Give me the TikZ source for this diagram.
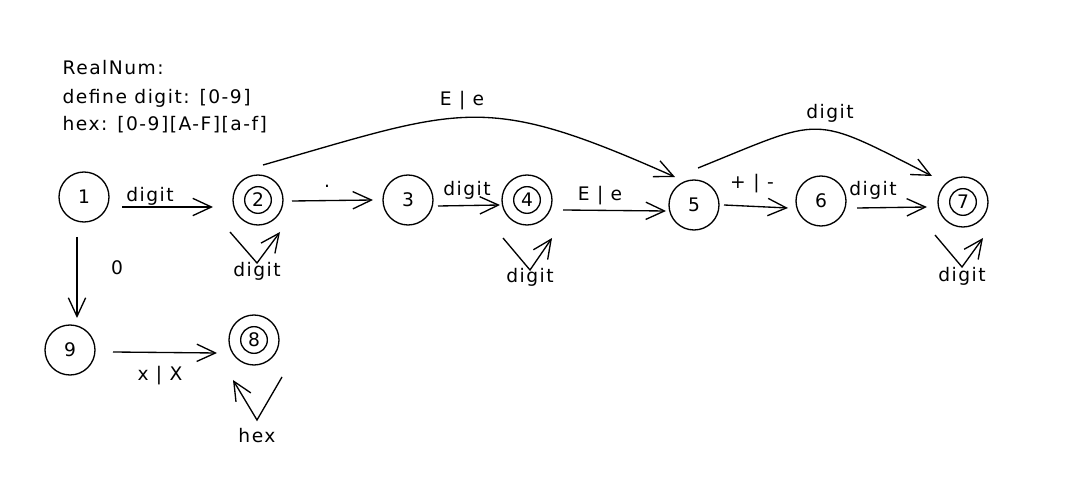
\documentclass[tikz,border=0pt]{standalone}
\usepackage{fontspec}
\setmainfont{DejaVu Sans}[LetterSpace=8]
\usetikzlibrary{arrows.meta}
\begin{document}
\begin{tikzpicture}[x=0.75pt,y=-0.75pt, line width=1pt,
  font=\fontsize{14}{16}\selectfont,
  state/.style={circle,draw,minimum size=37.5pt,inner sep=0pt},
  accept/.style={state,path picture={\draw (path picture bounding box.center) circle (10pt);}},
  arr/.style={-{Straight Barb[length=14pt,width=13pt]}},
  lbl/.style={inner sep=1pt},
  note/.style={anchor=base west,inner sep=0pt}]
\useasboundingbox (0,0) rectangle (1079,488);

% notes
\node[note] (t1) at (62,75) {RealNum:};
\node[note] (t2) at (62,104) {define digit: [0-9]};
\node[note] (t3) at (62,131) {hex: [0-9][A-F][a-f]};

% states
\node[state]  (n1) at (84,197) {1};
\node[accept] (n2) at (258,200) {2};
\node[state]  (n3) at (408,200) {3};
\node[accept] (n4) at (527,200) {4};
\node[state]  (n5) at (694,205) {5};
\node[state]  (n6) at (821,201) {6};
\node[accept] (n7) at (963,202) {7};
\node[accept] (n8) at (254,340) {8};
\node[state]  (n9) at (70,350) {9};

% straight transitions
\draw[arr] ([shift={(38,10)}]n1.center) -- ([shift={(-45,7)}]n2.center);
\draw[arr] ([shift={(-7,40)}]n1.center) -- ([shift={(7,-32)}]n9.center);
\draw[arr] ([shift={(34,1)}]n2.center) -- ([shift={(-35,0)}]n3.center);
\draw[arr] ([shift={(30,6)}]n3.center) -- ([shift={(-27,5)}]n4.center);
\draw[arr] ([shift={(36,10)}]n4.center) -- ([shift={(-28,6)}]n5.center);
\draw[arr] ([shift={(30,0)}]n5.center) -- ([shift={(-33,7)}]n6.center);
\draw[arr] ([shift={(36,7)}]n6.center) -- ([shift={(-36,5)}]n7.center);
\draw[arr] ([shift={(43,2)}]n9.center) -- ([shift={(-37,13)}]n8.center);

% curved transitions
\draw[arr] ([shift={(5,-35)}]n2.center) to[out=16,in=156,looseness=1.3] ([shift={(-19,-28)}]n5.center);
\draw[arr] ([shift={(4,-37)}]n5.center) to[out=22,in=153,looseness=1.5] ([shift={(-31,-26)}]n7.center);

% self loops
\draw[arr] ([shift={(-28,32)}]n2.center) -- ([shift={(-1,63)}]n2.center) -- ([shift={(22,32)}]n2.center);
\draw[arr] ([shift={(-24,38)}]n4.center) -- ([shift={(3,70)}]n4.center) -- ([shift={(25,38)}]n4.center);
\draw[arr] ([shift={(-28,33)}]n7.center) -- ([shift={(-1,65)}]n7.center) -- ([shift={(20,36)}]n7.center);
\draw[arr] ([shift={(28,37)}]n8.center) -- ([shift={(3,80)}]n8.center) -- ([shift={(-21,40)}]n8.center);

% labels
\node[lbl] (l12) at (150,196) {digit};
\node[lbl] (l19) at (117,268) {0};
\node[lbl] (l23) at (327,186) {.};
\node[lbl] (l34) at (467,190) {digit};
\node[lbl] (l45) at (600,196) {E | e};
\node[lbl] (l56) at (752,184) {+ | -};
\node[lbl] (l67) at (873,190) {digit};
\node[lbl] (l98) at (160,376) {x | X};
\node[lbl] (l25) at (462,101) {E | e};
\node[lbl] (l57) at (830,113) {digit};
\node[lbl] (s2) at (257,271) {digit};
\node[lbl] (s4) at (530,277) {digit};
\node[lbl] (s7) at (962,276) {digit};
\node[lbl] (s8) at (257,436) {hex};
\end{tikzpicture}
\end{document}
